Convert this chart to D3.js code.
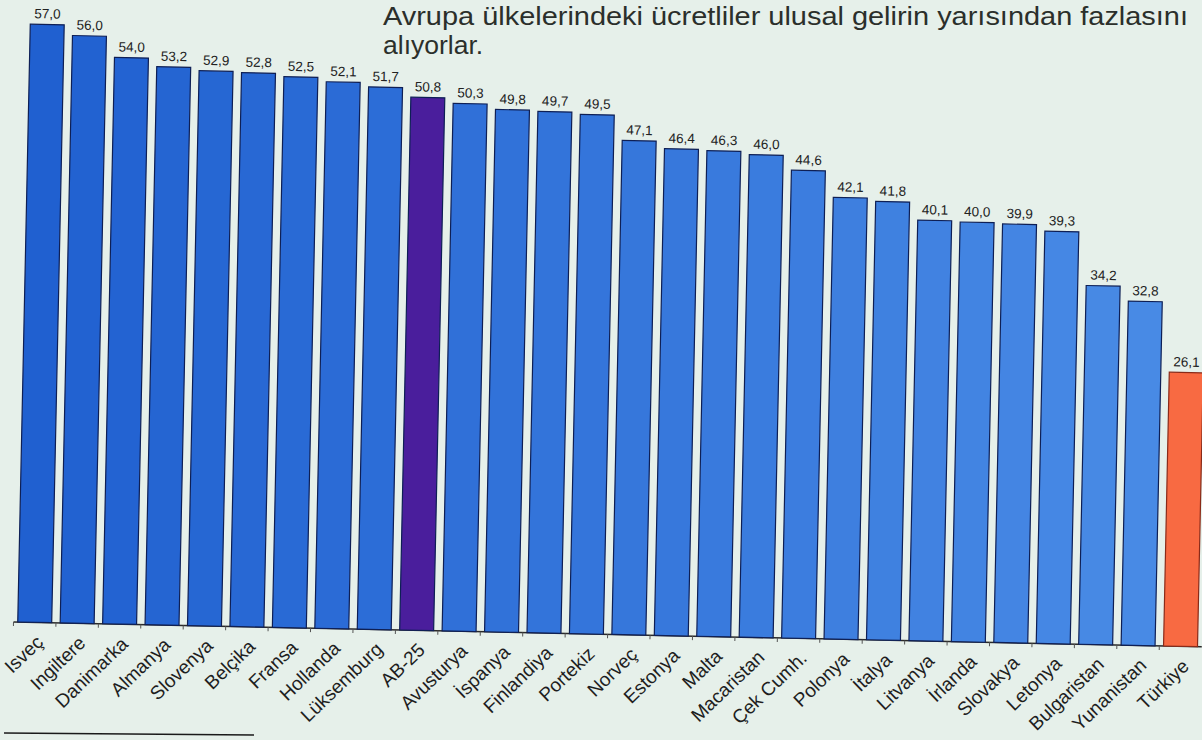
<!DOCTYPE html>
<html>
<head>
<meta charset="utf-8">
<script src="https://cdn.jsdelivr.net/npm/d3@7"></script>
<style>
  html, body { margin: 0; padding: 0; background: #e6f0ea; }
  svg { display: block; font-family: "Liberation Sans", Arial, sans-serif; }
</style>
</head>
<body>
<svg id="chart" width="1202" height="740"></svg>
<script>
const categories = ["Isveç","Ingiltere","Danimarka","Almanya","Slovenya","Belçika","Fransa","Hollanda","Lüksemburg","AB-25","Avusturya","İspanya","Finlandiya","Portekiz","Norveç","Estonya","Malta","Macaristan","Çek Cumh.","Polonya","İtalya","Litvanya","İrlanda","Slovakya","Letonya","Bulgaristan","Yunanistan","Türkiye"];
const values = [57.0,56.0,54.0,53.2,52.9,52.8,52.5,52.1,51.7,50.8,50.3,49.8,49.7,49.5,47.1,46.4,46.3,46.0,44.6,42.1,41.8,40.1,40.0,39.9,39.3,34.2,32.8,26.1];
const valueLabels = ["57,0","56,0","54,0","53,2","52,9","52,8","52,5","52,1","51,7","50,8","50,3","49,8","49,7","49,5","47,1","46,4","46,3","46,0","44,6","42,1","41,8","40,1","40,0","39,9","39,3","34,2","32,8","26,1"];
const titleLines = ["Avrupa ülkelerindeki ücretliler ulusal gelirin yarısından fazlasını","alıyorlar."];

const data = categories.map((c, i) => ({ name: c, value: values[i], label: valueLabels[i], i }));

const svg = d3.select("#chart");
svg.append("rect").attr("width", 1202).attr("height", 740).attr("fill", "#e6f0ea");

// title
const title = svg.append("g").attr("font-size", 26.5).attr("fill", "#2b2f2b");
title.append("text").attr("x", 383).attr("y", 25)
  .attr("textLength", 805).attr("lengthAdjust", "spacingAndGlyphs").text(titleLines[0]);
title.append("text").attr("x", 383).attr("y", 54).text(titleLines[1]);

const base = 622;
const x = d3.scaleBand().domain(categories).range([13.5, 1202]).paddingInner(0.2).paddingOuter(0.1);
const y = d3.scaleLinear().domain([0, 57]).range([base, base - 598]);

const g = svg.append("g").attr("transform", "rotate(1.2, 18, " + base + ")");

const blueScale = d3.scaleLinear().domain([0, categories.length - 1]).range(["#2060d0", "#4a8ce6"]);
function fillFor(d) {
  if (d.name === "AB-25") return "#4a1e9c";
  if (d.name === "Türkiye") return "#f86a42";
  return blueScale(d.i);
}
function strokeFor(d) {
  if (d.name === "Türkiye") return "#8a2a18";
  return "#0e1f55";
}

// axis
const axis = d3.axisBottom(x).tickSize(0).tickFormat("");
const ax = g.append("g").attr("transform", `translate(0,${base})`).call(axis);
ax.select(".domain").attr("stroke", "#2a2a2a").attr("stroke-width", 1.5).attr("d", `M${x.range()[0]},0H${x.range()[1]}`);
g.selectAll(".tk").data(data).enter().append("line")
  .attr("x1", d => x(d.name) - x.step() * 0.1).attr("x2", d => x(d.name) - x.step() * 0.1)
  .attr("y1", base).attr("y2", base + 4)
  .attr("stroke", "#555").attr("stroke-width", 1);

// bars
g.selectAll(".bar").data(data).enter().append("rect")
  .attr("x", d => x(d.name)).attr("width", x.bandwidth())
  .attr("y", d => y(d.value)).attr("height", d => y(0) - y(d.value))
  .attr("fill", fillFor).attr("stroke", strokeFor).attr("stroke-width", 1.2);

// value labels
g.selectAll(".val").data(data).enter().append("text")
  .attr("x", d => x(d.name) + x.bandwidth() / 2).attr("y", d => y(d.value) - 6)
  .attr("text-anchor", "middle").attr("font-size", 13.5).attr("fill", "#222")
  .text(d => d.label);

// category labels
g.selectAll(".cat").data(data).enter().append("text")
  .attr("transform", d => `translate(${x(d.name) + x.bandwidth() / 2 + 10},${base + 21}) rotate(-45)`)
  .attr("text-anchor", "end").attr("font-size", 19).attr("fill", "#1e1e1e")
  .text(d => d.name);

// footnote rule
svg.append("line").attr("x1", 4).attr("x2", 254).attr("y1", 733).attr("y2", 735)
  .attr("stroke", "#1a1a1a").attr("stroke-width", 1.5);
</script>
</body>
</html>
